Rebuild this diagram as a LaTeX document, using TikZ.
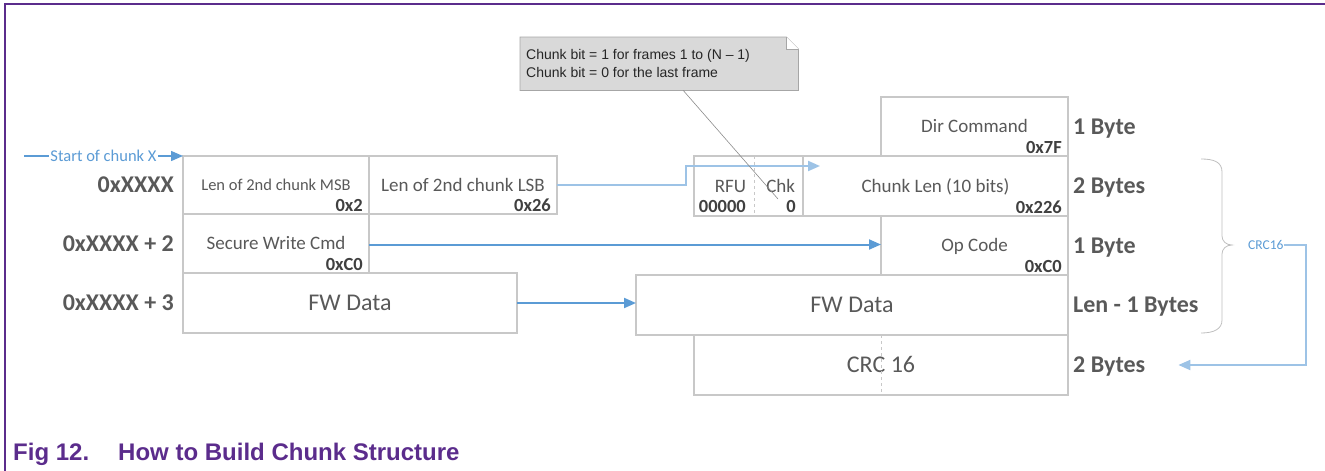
\documentclass[tikz,border=0pt]{standalone}
\usepackage{fontspec}
\setmainfont{Carlito}
\newfontfamily\arialfont{Liberation Sans}
\usetikzlibrary{positioning,arrows.meta}
\definecolor{framepurple}{RGB}{91,44,140}
\definecolor{boxgray}{RGB}{200,200,200}
\definecolor{txtgray}{RGB}{89,89,89}
\definecolor{valgray}{RGB}{64,64,64}
\definecolor{linkblue}{RGB}{91,155,213}
\definecolor{paleblue}{RGB}{157,195,230}
\definecolor{notefill}{RGB}{217,217,217}
\definecolor{noteedge}{RGB}{166,166,166}
\definecolor{bracegray}{RGB}{191,191,191}
\tikzset{
  field/.style={
    draw=boxgray,
    fill=white,
    rectangle,
    line width=1.8pt,
    inner sep=0pt,
    outer sep=0pt,
    text=txtgray,
    font=\fontsize{19pt}{22pt}\selectfont,
    text height=12.2pt,
    text depth=0pt
  },
  bigfield/.style={field, font=\fontsize{24pt}{28pt}\selectfont, text height=15.5pt},
  hexval/.style={anchor=base east, inner sep=0pt, text=valgray, font=\bfseries\fontsize{18.5pt}{22pt}\selectfont},
  bytelbl/.style={
    inner sep=0pt,
    text=txtgray,
    font=\bfseries\fontsize{24pt}{28pt}\selectfont,
    text height=15.5pt,
    text depth=0pt
  },
  link/.style={-{Triangle[length=12pt,width=10pt]}, line width=2pt, draw=linkblue},
  palelink/.style={link, draw=paleblue},
  notetext/.style={anchor=base west, inner sep=0pt, text=black!85, font=\arialfont\fontsize{14pt}{17pt}\selectfont},
  caption/.style={anchor=base west, inner sep=0pt, text=framepurple, font=\arialfont\bfseries\fontsize{24pt}{28pt}\selectfont}
}

\begin{document}
\begin{tikzpicture}[x=1pt, y=-1pt]
\useasboundingbox (0,0) rectangle (1325,471);

% Frame
\draw[framepurple, line width=1.5pt] (5,471) -- (5,4) -- (1325,4);

% Source chunk
\node[field, font=\fontsize{16.5pt}{20pt}\selectfont, text height=10.6pt,
  minimum width=186pt, minimum height=58pt, anchor=north west] (msb) at (183,156) {Len of 2nd chunk MSB};
\node[field, minimum width=188pt, minimum height=58pt, right=0pt of msb] (lsb) {Len of 2nd chunk LSB};
\node[field, minimum width=186pt, minimum height=59pt, below=0pt of msb] (secure) {Secure Write Cmd};
\node[bigfield, minimum width=334pt, minimum height=60pt, anchor=north west] (fwleft) at (secure.south west) {FW Data};

\node[hexval] (msbval) at ([shift={(-6,-2.5)}]msb.south east) {0x2};
\node[hexval] (lsbval) at ([shift={(-6,-2.5)}]lsb.south east) {0x26};
\node[hexval] (secureval) at ([shift={(-6,-2.5)}]secure.south east) {0xC0};

% Addresses
\node[bytelbl, left=9pt of msb] (addr0) {0xXXXX};
\node[bytelbl, left=9pt of secure] (addr2) {0xXXXX + 2};
\node[bytelbl, left=9pt of fwleft] (addr3) {0xXXXX + 3};

\coordinate (chunkstart) at (24,156);
\draw[link, line width=1.4pt] (chunkstart) --
  node[fill=white, inner sep=1.5pt, text=linkblue, font=\fontsize{16.5pt}{20pt}\selectfont,
    text height=11pt, text depth=0pt] (startlbl) {Start of chunk X} (msb.north west);

% Target frame
\node[field, minimum width=265pt, minimum height=60pt, anchor=north west] (chunklen) at (803,156) {Chunk Len (10 bits)};
\node[field, minimum width=187pt, minimum height=59pt, anchor=south east] (dircmd) at (chunklen.north east) {Dir Command};
\node[field, minimum width=187pt, minimum height=59pt, anchor=north east] (opcode) at (chunklen.south east) {Op Code};
\node[bigfield, minimum width=432pt, minimum height=60pt, anchor=north east] (fwright) at (opcode.south east) {FW Data};
\node[bigfield, minimum width=374pt, minimum height=60pt, anchor=north east] (crc) at (fwright.south east) {CRC 16};
\node[field, minimum width=109pt, minimum height=60pt, anchor=north east] (rfuchk) at (chunklen.north west) {};

\draw[boxgray, dashed, line width=0.8pt] (crc.north -| dircmd.west) -- (crc.south -| dircmd.west);

\coordinate (split) at ([xshift=60pt]rfuchk.north west);
\draw[boxgray, dashed, line width=0.8pt] (split) -- (split |- rfuchk.south);
\node[field, draw=none, fill=none, anchor=base east] (rfu) at ([shift={(-8,36.5)}]split) {RFU};
\node[hexval] (rfuval) at ([shift={(-8,56.5)}]split) {00000};
\node[field, draw=none, fill=none, anchor=base east] (chk) at ([shift={(-8,36.5)}]rfuchk.north east) {Chk};
\node[hexval] (chkval) at ([shift={(-7,56.5)}]rfuchk.north east) {0};

\node[hexval] (dirval) at ([shift={(-6,-2.5)}]dircmd.south east) {0x7F};
\node[hexval] (lenval) at ([shift={(-6,-2.5)}]chunklen.south east) {0x226};
\node[hexval] (opval) at ([shift={(-6,-2.5)}]opcode.south east) {0xC0};

% Sizes
\node[bytelbl, right=5pt of dircmd] (size1) {1 Byte};
\node[bytelbl, right=5pt of chunklen] (size2) {2 Bytes};
\node[bytelbl, right=5pt of opcode] (size3) {1 Byte};
\node[bytelbl, right=5pt of fwright] (size4) {Len - 1 Bytes};
\node[bytelbl, right=5pt of crc] (size5) {2 Bytes};

% Connections
\draw[palelink] (lsb.east) -- ++(129,0) |- ([shift={(17,10)}]chunklen.north west);
\draw[link] ([yshift=-1pt]secure.east) -- ([yshift=-1pt]secure.east -| opcode.west);
\draw[link] (fwleft.east) -- (fwleft.east -| fwright.west);

% CRC range
\draw[bracegray, line width=0.8pt] (1201,159) .. controls (1214,159) and (1222,162) .. (1222,172)
  -- (1222,236) .. controls (1222,241) and (1226,245) .. (1232,245)
  .. controls (1226,245) and (1222,249) .. (1222,254)
  -- (1222,320) .. controls (1222,329) and (1214,333) .. (1201,333);
\coordinate (bracetip) at (1232,245);
\node[right=16pt of bracetip, inner sep=0pt, text=linkblue, font=\fontsize{13.5pt}{16pt}\selectfont,
  text height=8.7pt, text depth=0pt] (crclbl) {CRC16};
\draw[palelink] (crclbl.east) -- ++(22,0) |- ([xshift=33pt]size5.east);

% Note
\node[anchor=north west, minimum width=278pt, minimum height=53pt, inner sep=0pt] (note) at (520,37) {};
\filldraw[fill=notefill, draw=noteedge, line width=0.8pt] (note.north west) -- ([xshift=-12pt]note.north east)
  -- ([yshift=-12pt]note.north east) -- (note.south east) -- (note.south west) -- cycle;
\filldraw[fill=white, draw=noteedge, line width=0.8pt] ([xshift=-12pt]note.north east)
  -- ([xshift=-12pt, yshift=-12pt]note.north east) -- ([yshift=-12pt]note.north east);
\node[notetext] (noteline1) at ([shift={(6,22)}]note.north west) {Chunk bit = 1 for frames 1 to (N – 1)};
\node[notetext] (noteline2) at ([shift={(6,40)}]note.north west) {Chunk bit = 0 for the last frame};
\coordinate (chkmark) at (778,199);
\draw[black!45, line width=0.6pt] ([xshift=24pt]note.south) -- (chkmark);

% Caption
\node[caption] (fignum) at (13,460) {Fig 12.};
\node[caption] (figtitle) at (118,460) {How to Build Chunk Structure};

\end{tikzpicture}
\end{document}
